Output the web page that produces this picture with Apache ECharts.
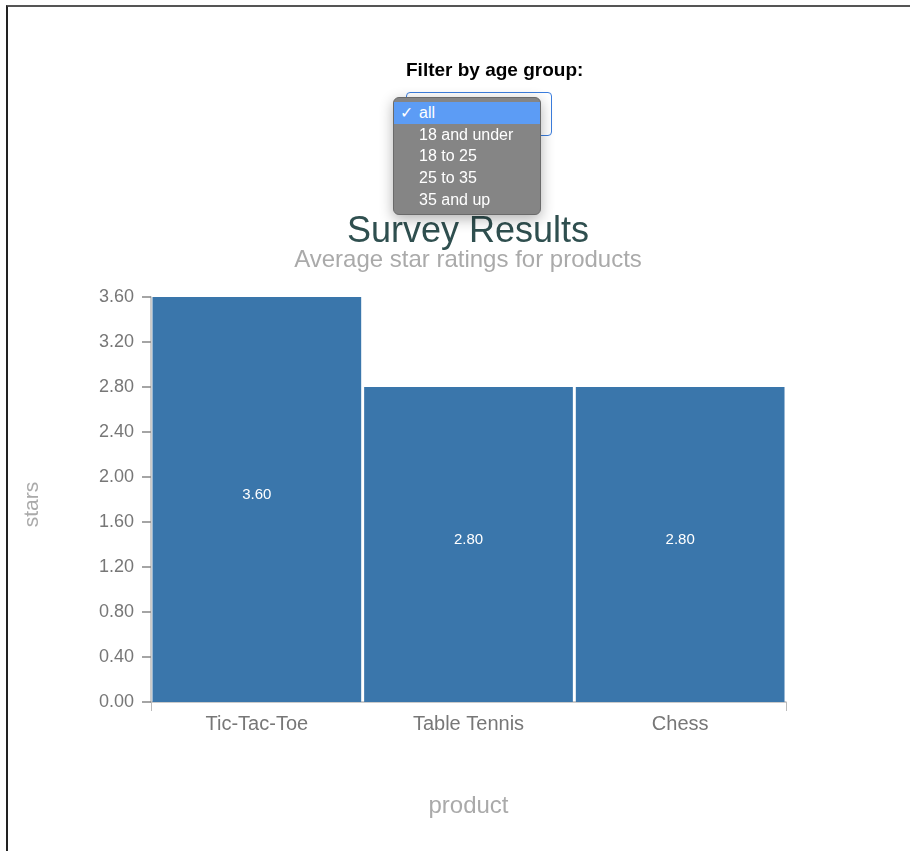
<!DOCTYPE html>
<html>
<head>
<meta charset="utf-8">
<script src="https://cdn.jsdelivr.net/npm/echarts@6/dist/echarts.min.js"></script>
<style>
  html, body { margin: 0; padding: 0; background: #fff; }
  body { width: 910px; height: 851px; position: relative; overflow: hidden;
         font-family: "Liberation Sans", Arial, sans-serif; }
  #frame { position: absolute; left: 6px; top: 5px; right: -10px; bottom: -10px;
           border-top: 2px solid #555; border-left: 2px solid #222; }
  #chart { position: absolute; left: 0; top: 0; width: 910px; height: 851px; }
  #filter { position: absolute; left: 0; top: 0; width: 910px; height: 230px; pointer-events: none; z-index: 2; }
  #filterLabel { position: absolute; left: 406px; top: 59px; font-weight: bold; font-size: 19px; color: #000; white-space: nowrap; }
  #selectBox { position: absolute; left: 406px; top: 92px; width: 144px; height: 42px;
               border: 1px solid #3b7ddd; border-radius: 4px; background: #fff; }
  #menu { position: absolute; left: 393px; top: 97px; width: 148px; height: 118px;
          background: #858585; border-radius: 6px; border: 1px solid #6a6a6a; box-sizing: border-box;
          box-shadow: 0 4px 14px rgba(0,0,0,0.3); padding-top: 4px; }
  .opt { position: relative; height: 21.7px; line-height: 21.7px; color: #fff; font-size: 16px; padding-left: 25px; }
  .opt.sel { background: #5c9cf5; }
  .opt .check { position: absolute; left: 6px; top: 0; }
</style>
</head>
<body>
<div id="frame"></div>
<div id="chart"></div>
<div id="filter">
  <div id="filterLabel">Filter by age group:</div>
  <div id="selectBox"></div>
  <div id="menu"></div>
</div>
<script>
// Survey data: average star rating per product (all age groups)
const products = ['Tic-Tac-Toe', 'Table Tennis', 'Chess'];
const stars = [3.60, 2.80, 2.80];
const ageGroups = ['all', '18 and under', '18 to 25', '25 to 35', '35 and up'];
const selectedGroup = 'all';

// Age-group dropdown (shown open)
const menu = document.getElementById('menu');
ageGroups.forEach(g => {
  const d = document.createElement('div');
  d.className = 'opt' + (g === selectedGroup ? ' sel' : '');
  d.innerHTML = (g === selectedGroup ? '<span class="check">\u2713</span>' : '') + g;
  menu.appendChild(d);
});

const chart = echarts.init(document.getElementById('chart'), null, { renderer: 'canvas' });
const font = '"Liberation Sans", Arial, sans-serif';
const titleCenterX = 463;
chart.setOption({
  animation: false,
  title: [
    { text: 'Survey Results', left: titleCenterX, textAlign: 'center', top: 209,
      textStyle: { fontFamily: font, fontSize: 36, fontWeight: 'normal', color: '#2f4f4f' } },
    { text: 'Average star ratings for products', left: titleCenterX, textAlign: 'center', top: 243,
      textStyle: { fontFamily: font, fontSize: 24, fontWeight: 'normal', color: '#aaaaaa' } }
  ],
  grid: { left: 151, right: 124, top: 297, bottom: 149 },
  xAxis: [
    {
      type: 'category', data: products,
      name: 'product', nameLocation: 'middle', nameGap: 92,
      nameTextStyle: { fontFamily: font, fontSize: 24, color: '#aaaaaa' },
      axisLine: { lineStyle: { color: '#bbbbbb', width: 1.5 } },
      axisTick: { alignWithLabel: true, length: 10, lineStyle: { color: '#999999' } },
      axisLabel: { fontFamily: font, fontSize: 20, color: '#777777', margin: 12 }
    },
    {
      // end ticks at both sides of the band scale
      type: 'value', min: 0, max: 1, interval: 1, position: 'bottom',
      axisLine: { show: false }, splitLine: { show: false },
      axisTick: { show: true, length: 9, lineStyle: { color: '#bbbbbb' } },
      axisLabel: { show: false }
    }
  ],
  yAxis: {
    type: 'value', min: 0, max: 3.6, interval: 0.4,
    name: 'stars', nameLocation: 'middle', nameGap: 108,
    nameTextStyle: { fontFamily: font, fontSize: 21, color: '#aaaaaa', padding: [0, 10, 0, 0] },
    axisLine: { show: true, lineStyle: { color: '#bbbbbb', width: 1.5 } },
    axisTick: { show: true, length: 9, lineStyle: { color: '#888888', width: 1.5 } },
    splitLine: { show: false },
    axisLabel: { fontFamily: font, fontSize: 18, color: '#777777', margin: 17,
                 formatter: v => v.toFixed(2) }
  },
  series: [{
    type: 'bar', data: stars, xAxisIndex: 0,
    barCategoryGap: '1.4%',
    itemStyle: { color: '#3a76ab' },
    label: { show: true, position: 'inside', offset: [0, -5], color: '#ffffff',
             fontFamily: font, fontSize: 15, formatter: p => p.value.toFixed(2) }
  }]
});
</script>
</body>
</html>
